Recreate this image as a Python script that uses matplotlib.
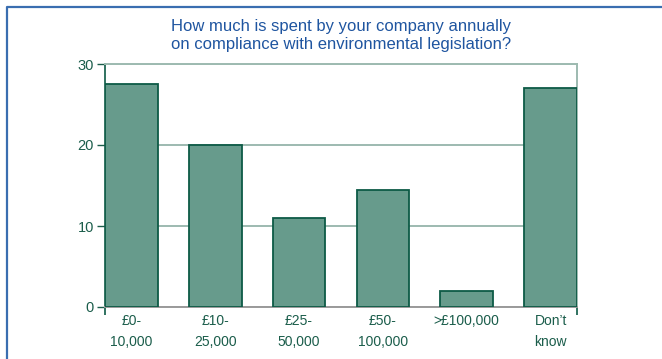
import numpy as np
import matplotlib.pyplot as plt
from matplotlib.lines import Line2D

plt.rcParams['font.family'] = ['Liberation Sans', 'DejaVu Sans']

# Survey answers (per cent of respondents)
categories = ["£0-\n10,000", "£10-\n25,000", "£25-\n50,000", "£50-\n100,000", ">£100,000", "Don’t\nknow"]
values = [27.5, 20, 11, 14.5, 2, 27]
y_ticks = [0, 10, 20, 30]

bar_fill = "#679b8c"
bar_edge = "#0d5a46"
text_green = "#1b5d4b"
grid_col = "#9dbab0"
title_blue = "#1f55a0"
frame_blue = "#3a6eb0"

fig = plt.figure(figsize=(6.62, 3.59), dpi=100)
ax = fig.add_axes([105 / 662, 52 / 359, 472 / 662, 243 / 359])

x = np.arange(len(categories))
width = 0.63
ax.bar(x, values, width=width, color=bar_fill, edgecolor=bar_edge, linewidth=1.3, zorder=3)

ax.set_xlim(-width / 2, len(categories) - 1 + width / 2)
ax.set_ylim(0, 30)

# Grid lines at 10 and 20
ax.set_yticks(y_ticks)
ax.yaxis.grid(True, color=grid_col, linewidth=1.4, zorder=0)
ax.set_axisbelow(True)

ax.tick_params(axis='y', direction='out', length=6, width=1, color=text_green,
               labelcolor=text_green, labelsize=10.5, pad=2)

# Category labels without tick marks, plus tick marks only at the ends
ax.set_xticks(x)
ax.set_xticklabels(categories, linespacing=1.6)
ax.tick_params(axis='x', which='major', length=0, labelcolor=text_green, labelsize=10, pad=5)
ax.set_xticks(ax.get_xlim(), minor=True)
ax.tick_params(axis='x', which='minor', direction='out', length=6, width=1.2, color=bar_edge)

ax.spines['left'].set_color(bar_edge)
ax.spines['left'].set_linewidth(1.2)
ax.spines['bottom'].set_color("#9a9a9a")
ax.spines['bottom'].set_linewidth(1.4)
ax.spines['top'].set_color(grid_col)
ax.spines['top'].set_linewidth(1.4)
ax.spines['right'].set_color(grid_col)
ax.spines['right'].set_linewidth(1.4)

fig.text(341 / 662, 1 - 36 / 359,
         "How much is spent by your company annually\non compliance with environmental legislation?",
         ha='center', va='center', color=title_blue, fontsize=12, linespacing=1.25)

# Box rule along the top and left of the panel
fig.add_artist(Line2D([6.5 / 662, 6.5 / 662, 1.0], [0.0, 1 - 7 / 359, 1 - 7 / 359],
                      transform=fig.transFigure, color=frame_blue, linewidth=1.6))

fig.savefig("out.png", dpi=100)
